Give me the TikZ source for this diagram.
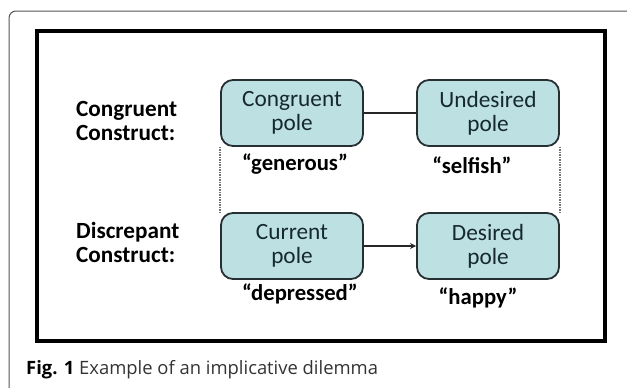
\documentclass[tikz,border=0pt]{standalone}
\usepackage{fontspec}
\setmainfont{Carlito}
\newfontfamily\capfont{Open Sans}
\usetikzlibrary{arrows.meta}
\definecolor{boxfill}{HTML}{BDE0E3}
\definecolor{boxtext}{HTML}{16282F}
\definecolor{boxline}{HTML}{263033}
\definecolor{framegray}{HTML}{555555}
\tikzset{
  pole/.style={draw=boxline, line width=1.8pt, fill=boxfill, rounded corners=12pt,
    minimum width=142pt, minimum height=66pt, inner sep=0pt, align=center,
    text=boxtext, font=\fontsize{23.3}{24}\selectfont},
  quote/.style={font=\fontsize{22.7}{24}\selectfont\bfseries, text=black, inner sep=0pt},
  side/.style={font=\fontsize{23.2}{24}\selectfont\bfseries, align=left, anchor=west, inner sep=0pt},
  link/.style={line width=1.5pt, draw=black!85},
  dots/.style={line width=1.3pt, draw=black!55, dash pattern=on 1.2pt off 1.3pt}
}
\begin{document}
\begin{tikzpicture}[x=1pt,y=-1pt]
\useasboundingbox (0,0) rectangle (627,388);
% outer frame
\draw[framegray, line width=1pt, rounded corners=7pt] (9,388) -- (9,11) -- (627,11);
% inner frame
\draw[black, line width=3.5pt] (37,31) rectangle (605,341);
% boxes
\node[pole] (cong) at (292,113) {Congruent\\pole};
\node[pole] (und) at (488,113) {Undesired\\pole};
\node[pole] (cur) at (292,246) {Current\\pole};
\node[pole] (des) at (488,246) {Desired\\pole};
% connectors
\draw[link] (cong.east) -- (und.west);
\draw[link, -{Stealth[length=6pt,width=6pt]}] (cur.east) -- (des.west);
\draw[dots] (cong.south west) -- (cur.north west);
\draw[dots] (und.south east) -- (des.north east);
% quotes
\node[quote] (gen) at (295,164) {“generous”};
\node[quote] (sel) at (472,165) {“selfish”};
\node[quote] (dep) at (300,294) {“depressed”};
\node[quote] (hap) at (478,298) {“happy”};
% side labels
\node[side] (cc) at (76,121) {Congruent\\Construct:};
\node[side] (dc) at (76,242) {Discrepant\\Construct:};
% caption
\node[anchor=west, inner sep=0pt, font=\capfont\fontsize{18.4}{20}\selectfont] (cap) at (26,370)
  {\textbf{Fig. 1} \textcolor{black!80}{Example of an implicative dilemma}};
\end{tikzpicture}
\end{document}
